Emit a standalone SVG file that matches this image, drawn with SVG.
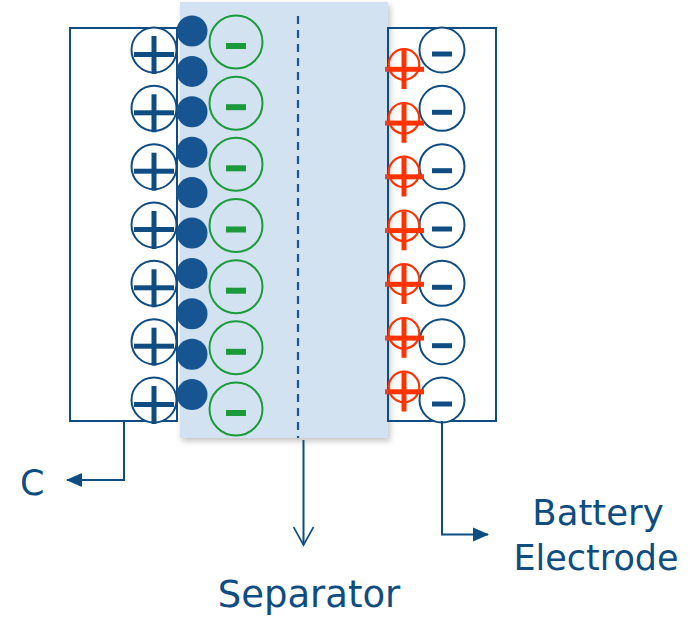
<svg xmlns="http://www.w3.org/2000/svg" width="689" height="617" viewBox="0 0 689 617">
<defs>
<style>
.box{fill:none;stroke:#0f4c81;stroke-width:2}
.pc{fill:#fff;stroke:#0f4c81;stroke-width:2}
.bar{fill:#0f4c81}
.dot{fill:#175592}
.gc{fill:none;stroke:#1a9a3a;stroke-width:2}
.gbar{fill:#1a9a3a}
.rc{fill:none;stroke:#ff3300;stroke-width:2.2}
.rbar{fill:#ff3300}
.conn{fill:none;stroke:#0f4c81;stroke-width:2}
.lbl{font-family:"DejaVu Sans",Verdana,sans-serif;fill:#0f4c81}
</style>
<filter id="sh" x="-10%" y="-10%" width="125%" height="125%">
<feGaussianBlur in="SourceAlpha" stdDeviation="3"/>
<feOffset dx="2" dy="3" result="b"/>
<feComponentTransfer><feFuncA type="linear" slope="0.25"/></feComponentTransfer>
<feMerge><feMergeNode/><feMergeNode in="SourceGraphic"/></feMerge>
</filter>
<marker id="tri" viewBox="0 0 16 16" refX="15" refY="8" markerWidth="16" markerHeight="16" markerUnits="userSpaceOnUse" orient="auto">
<path d="M0,1 L16,8 L0,15 Z" fill="#0f4c81"/>
</marker>
<marker id="vee" viewBox="0 0 22 22" refX="20" refY="11" markerWidth="22" markerHeight="22" markerUnits="userSpaceOnUse" orient="auto">
<path d="M2,1 L20,11 L2,21" fill="none" stroke="#0f4c81" stroke-width="1.6"/>
</marker>
<g id="plus">
<circle class="pc" cx="0" cy="0" r="22.5"/>
<rect class="bar" x="-20" y="2" width="40" height="5"/>
<rect class="bar" x="-2.5" y="-14" width="5" height="38"/>
</g>
<g id="gminus">
<circle class="gc" cx="0" cy="0" r="26.5"/>
<rect class="gbar" x="-10" y="1" width="20" height="6"/>
</g>
<g id="bminus">
<circle class="pc" cx="0" cy="0" r="22.5"/>
<rect class="bar" x="-10" y="1.5" width="20" height="5"/>
</g>
<g id="rplus">
<rect x="-19" y="2.3" width="4" height="5" fill="#d24a3c"/>
<circle class="rc" cx="0" cy="0" r="15.3"/>
<rect class="rbar" x="-15" y="2.3" width="35" height="5"/>
<rect class="rbar" x="-2.5" y="-14.5" width="5" height="39"/>
</g>
</defs>
<rect width="689" height="617" fill="#fff"/>

<g id="separator">
<rect x="180" y="2" width="208" height="436" fill="#d3e2f0" filter="url(#sh)"/>
<line x1="298" y1="16" x2="298" y2="438" stroke="#1a5594" stroke-width="2.2" stroke-dasharray="8 6"/>
</g>

<g id="left-electrode">
<rect class="box" x="70" y="28" width="107" height="393"/>
<use href="#plus" x="154" y="50"/>
<use href="#plus" x="154" y="108.3"/>
<use href="#plus" x="154" y="166.7"/>
<use href="#plus" x="154" y="225"/>
<use href="#plus" x="154" y="283.3"/>
<use href="#plus" x="154" y="341.7"/>
<use href="#plus" x="154" y="400"/>
<circle class="dot" cx="192" cy="31" r="15.5"/>
<circle class="dot" cx="192" cy="71.4" r="15.5"/>
<circle class="dot" cx="192" cy="111.8" r="15.5"/>
<circle class="dot" cx="192" cy="152.2" r="15.5"/>
<circle class="dot" cx="192" cy="192.6" r="15.5"/>
<circle class="dot" cx="192" cy="233" r="15.5"/>
<circle class="dot" cx="192" cy="273.4" r="15.5"/>
<circle class="dot" cx="192" cy="313.8" r="15.5"/>
<circle class="dot" cx="192" cy="354.2" r="15.5"/>
<circle class="dot" cx="192" cy="394.6" r="15.5"/>
<use href="#gminus" x="236" y="42"/>
<use href="#gminus" x="236" y="103.2"/>
<use href="#gminus" x="236" y="164.3"/>
<use href="#gminus" x="236" y="225.5"/>
<use href="#gminus" x="236" y="286.7"/>
<use href="#gminus" x="236" y="347.8"/>
<use href="#gminus" x="236" y="409"/>
</g>

<g id="right-electrode">
<rect class="box" x="388" y="28" width="108" height="393"/>
<use href="#bminus" x="442" y="50"/>
<use href="#bminus" x="442" y="108.3"/>
<use href="#bminus" x="442" y="166.7"/>
<use href="#bminus" x="442" y="225"/>
<use href="#bminus" x="442" y="283.3"/>
<use href="#bminus" x="442" y="341.7"/>
<use href="#bminus" x="442" y="400"/>
<use href="#rplus" x="404" y="64.5"/>
<use href="#rplus" x="404" y="118.3"/>
<use href="#rplus" x="404" y="172"/>
<use href="#rplus" x="404" y="225.8"/>
<use href="#rplus" x="404" y="279.5"/>
<use href="#rplus" x="404" y="333.3"/>
<use href="#rplus" x="404" y="387"/>
</g>

<g id="connectors">
<polyline class="conn" points="124,421 124,480 67,480" marker-end="url(#tri)"/>
<line class="conn" x1="303.5" y1="440" x2="303.5" y2="545" stroke-width="1.6" marker-end="url(#vee)"/>
<polyline class="conn" points="442,421 442,534.5 488,534.5" marker-end="url(#tri)"/>
</g>

<g id="labels">
<text class="lbl" x="20" y="495" font-size="35">C</text>
<text class="lbl" x="309" y="607" font-size="37" text-anchor="middle">Separator</text>
<text class="lbl" x="598" y="525" font-size="35.5" text-anchor="middle">Battery</text>
<text class="lbl" x="596" y="570" font-size="35" text-anchor="middle">Electrode</text>
</g>
</svg>
